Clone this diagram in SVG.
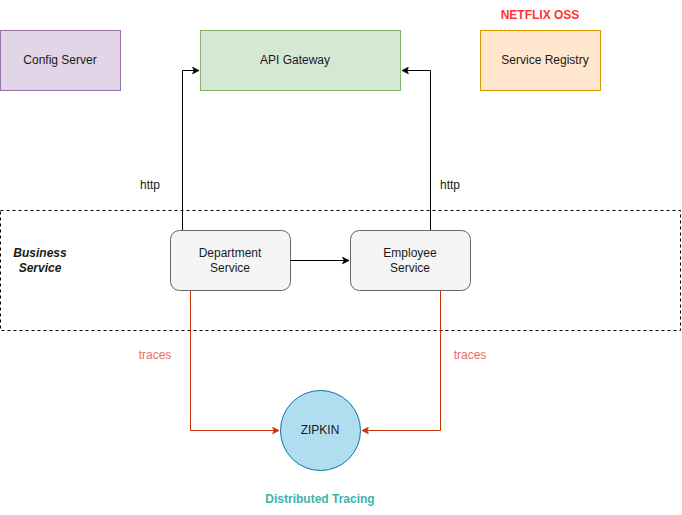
<svg xmlns="http://www.w3.org/2000/svg" width="682" height="515" viewBox="0 0 682 515">
<defs>
<style>
text{font-family:"Liberation Sans",Arial,Helvetica,sans-serif;font-size:12px;fill:#1a1a1a;text-anchor:middle}
.e{fill:none;stroke:#000;stroke-width:1}
.t{fill:none;stroke:#c73500;stroke-width:1}
.lbl{fill:#ea6b66}
</style>
<marker id="ab" viewBox="0 0 10 10" refX="9" refY="5" markerWidth="8" markerHeight="8" markerUnits="userSpaceOnUse" orient="auto"><path d="M1,1 L9,5 L1,9 L3,5 Z" fill="#000" stroke="#000" stroke-width="1"/></marker>
<marker id="ar" viewBox="0 0 10 10" refX="9" refY="5" markerWidth="8" markerHeight="8" markerUnits="userSpaceOnUse" orient="auto"><path d="M1,1 L9,5 L1,9 L3,5 Z" fill="#c73500" stroke="#c73500" stroke-width="1"/></marker>
</defs>
<rect width="682" height="515" fill="#fff"/>
<g id="business-service">
<rect x="0.5" y="210.5" width="680" height="120" fill="none" stroke="#000" stroke-dasharray="3 3"/>
<text x="40" y="257" font-style="italic" font-weight="bold">Business</text>
<text x="40" y="272" font-style="italic" font-weight="bold">Service</text>
</g>
<g id="config-server">
<rect x="0.5" y="30.5" width="120" height="60" fill="#e1d5e7" stroke="#9673a6"/>
<text x="60" y="64">Config Server</text>
</g>
<g id="api-gateway">
<rect x="200.5" y="30.5" width="200" height="60" fill="#d5e8d4" stroke="#82b366"/>
<text x="295" y="64">API Gateway</text>
</g>
<g id="netflix-oss">
<text x="540" y="19" font-weight="bold" style="fill:#ff3333">NETFLIX OSS</text>
</g>
<g id="service-registry">
<rect x="480.5" y="30.5" width="120" height="60" fill="#ffe6cc" stroke="#d79b00"/>
<text x="545" y="64">Service Registry</text>
</g>
<g id="department-service">
<rect x="170.5" y="230.5" width="120" height="60" rx="9" fill="#f5f5f5" stroke="#666"/>
<text x="230" y="257">Department</text>
<text x="230" y="272">Service</text>
</g>
<g id="employee-service">
<rect x="350.5" y="230.5" width="120" height="60" rx="9" fill="#f5f5f5" stroke="#666"/>
<text x="410" y="257">Employee</text>
<text x="410" y="272">Service</text>
</g>
<g id="zipkin">
<circle cx="320.5" cy="430.5" r="40" fill="#b1ddf0" stroke="#10739e"/>
<text x="320" y="434">ZIPKIN</text>
</g>
<g id="distributed-tracing">
<text x="320" y="503" font-weight="bold" style="fill:#3eb3ae">Distributed Tracing</text>
</g>
<g id="connectors">
<path class="e" d="M182.5,230 V70.5 H199" marker-end="url(#ab)"/>
<path class="e" d="M430.5,230 V70.5 H402" marker-end="url(#ab)"/>
<path class="e" d="M290.5,260.5 H349" marker-end="url(#ab)"/>
<path class="t" d="M190.5,291 V430.5 H279" marker-end="url(#ar)"/>
<path class="t" d="M440.5,291 V430.5 H362" marker-end="url(#ar)"/>
<text x="150" y="189">http</text>
<text x="450" y="189">http</text>
<text class="lbl" x="155" y="359">traces</text>
<text class="lbl" x="470" y="359">traces</text>
</g>
</svg>
